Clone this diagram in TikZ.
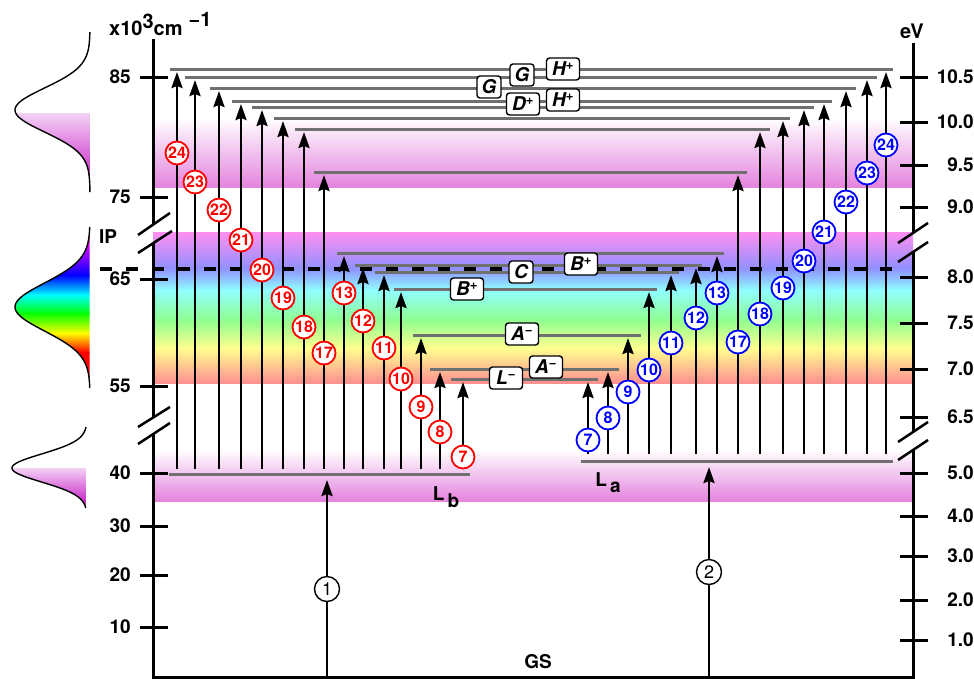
\documentclass[tikz,border=0pt]{standalone}
\usepackage{fontspec}
\setmainfont{TeX Gyre Heros}
\usetikzlibrary{arrows.meta}
\definecolor{lev}{HTML}{707070}
\definecolor{bandmag}{HTML}{E484DE}
\definecolor{gmag}{HTML}{C000C0}
\definecolor{rbA}{HTML}{FF90F0}
\definecolor{rbB}{HTML}{9090FF}
\definecolor{rbC}{HTML}{90FFFF}
\definecolor{rbD}{HTML}{90FF90}
\definecolor{rbE}{HTML}{FFFF90}
\definecolor{rbF}{HTML}{FF9090}
\begin{document}
\begin{tikzpicture}[x=1pt,y=-1pt,
  level/.style={draw=lev,line width=3pt},
  axisline/.style={line width=3pt,black},
  axtick/.style={line width=3pt,black},
  brk/.style={line width=2.5pt,black},
  gauss/.style={line width=1.4pt,black},
  trans/.style={line width=2.6pt,-{Stealth[length=16pt,width=11pt,inset=2pt]}},
  rcirc/.style={circle,draw=red,line width=1.8pt,fill=white,text=red,inner sep=0pt,minimum size=23pt,font=\bfseries\fontsize{16}{16}\selectfont},
  bcirc/.style={circle,draw=blue,line width=1.8pt,fill=white,text=blue,inner sep=0pt,minimum size=23pt,font=\bfseries\fontsize{16}{16}\selectfont},
  kcirc/.style={circle,draw=black,line width=1.4pt,fill=white,inner sep=0pt,minimum size=25pt,font=\fontsize{18}{18}\selectfont},
  lab/.style={draw,rounded corners=3pt,line width=1.4pt,fill=white,inner sep=2.5pt,minimum height=22pt,minimum width=24pt,font=\bfseries\itshape\fontsize{19}{19}\selectfont},
  labw/.style={lab,minimum width=33pt},
  ticklab/.style={inner sep=0pt,font=\bfseries\fontsize{19}{19}\selectfont},
  txt/.style={inner sep=0pt,font=\bfseries\fontsize{19}{19}\selectfont}
]
\useasboundingbox (0,0) rectangle (974,678);
% ---------- bands ----------
\shade[top color=white,bottom color=bandmag] (153,118) rectangle (913,187);
\shade[top color=white,bottom color=bandmag] (153,450) rectangle (913,501);
\shade[top color=rbA,bottom color=rbB] (153,232) rectangle (913,268.5);
\shade[top color=rbB,bottom color=rbC] (153,268) rectangle (913,290.5);
\shade[top color=rbC,bottom color=rbD] (153,290) rectangle (913,320.5);
\shade[top color=rbD,bottom color=rbE] (153,320) rectangle (913,348.5);
\shade[top color=rbE,bottom color=rbF] (153,348) rectangle (913,383);
% ---------- left gaussians ----------
\begin{scope}
\clip plot[domain=32:192,samples=100,variable=\t] ({90-75*exp(-((\t-110)^2)/968)},\t) -- cycle;
\shade[top color=gmag!18,bottom color=gmag] (0,113) rectangle (90,195);
\end{scope}
\draw[gauss] plot[domain=32:192,samples=100,variable=\t] ({90-75*exp(-((\t-110)^2)/968)},\t);
\begin{scope}
\clip plot[domain=227:388,samples=100,variable=\t] ({90-75*exp(-((\t-307)^2)/1152)},\t) -- cycle;
\fill[magenta] (0,220) rectangle (90,240.5);
\shade[top color=magenta,bottom color=blue] (0,240) rectangle (90,275.5);
\shade[top color=blue,bottom color=cyan] (0,275) rectangle (90,295.5);
\shade[top color=cyan,bottom color=green] (0,295) rectangle (90,313.5);
\shade[top color=green,bottom color=yellow] (0,313) rectangle (90,333.5);
\shade[top color=yellow,bottom color=red] (0,333) rectangle (90,352.5);
\fill[red] (0,352) rectangle (90,392);
\end{scope}
\draw[gauss] plot[domain=227:388,samples=100,variable=\t] ({90-75*exp(-((\t-307)^2)/1152)},\t);
\begin{scope}
\clip plot[domain=427:508,samples=100,variable=\t] ({87-75*exp(-((\t-468)^2)/392)},\t) -- cycle;
\shade[top color=gmag!18,bottom color=gmag] (0,468) rectangle (87,510);
\end{scope}
\draw[gauss] plot[domain=427:508,samples=100,variable=\t] ({87-75*exp(-((\t-468)^2)/392)},\t);
% ---------- levels ----------
\foreach \ly/\la/\lb in {69/170/893,77/185/877,88/210/856,101/232/832,107/252/814,118/274/790,129/295/770,172/314/747,253/337/724,265/355/702,272/375/679,289/394/657,335/413/641,369/430/619,379/451/598}
  \draw[level] (\la,\ly) -- (\lb,\ly);
\draw[level] (169,474) -- (470,474);
\draw[level] (581,461) -- (893,461);
% ---------- IP dashed line ----------
\draw[line width=3.5pt,dash pattern=on 12pt off 14pt] (100,269) -- (893,269);
% ---------- axes ----------
\draw[axisline] (153,39) -- (153,225) (153,243) -- (153,418) (153,434) -- (153,677);
\draw[axisline] (913,43) -- (913,233) (913,252) -- (913,432) (913,450) -- (913,677);
\draw[axisline] (151.5,677) -- (914.5,677);
\draw[brk] (138,235) -- (170,213) (138,253) -- (172,231);
\draw[brk] (138,427) -- (170,407) (138,444) -- (170,423);
\draw[brk] (898,243) -- (928,223) (898,262) -- (928,242);
\draw[brk] (898,442) -- (928,422) (898,460) -- (928,440);
\foreach \ty/\tl in {77/85,197/75,279/65,386/55,473/40,526/30,575/20,627/10}{
  \draw[axtick] (140,\ty) -- (168,\ty);
  \node[ticklab,anchor=east] (lt\tl) at (131,\ty) {\tl};
}
\foreach \ty/\tl [count=\k] in {77/10.5,122/10.0,165/9.5,207/9.0,277/8.0,323/7.5,369/7.0,417/6.5,473/5.0,516/4.0,556/3.0,600/2.0,640/1.0}{
  \draw[axtick] (900,\ty) -- (928,\ty);
  \node[ticklab,anchor=east] (rt\k) at (974,\ty) {\tl};
}
% ---------- transitions ----------
\coordinate (gs1) at (327,677);
\coordinate (lbend) at (327,480);
\draw[trans] (gs1) -- (lbend);
\node[kcirc] (c1) at (327,589) {1};
\coordinate (gs2) at (709,677);
\coordinate (laend) at (709,467);
\draw[trans] (gs2) -- (laend);
\node[kcirc] (c2) at (709,572) {2};
\foreach \ax/\ty/\cy/\n in {177/72/153/24,195/80/182/23,219/91/210/22,241/104/240/21,262/110/270/20,283/121/298/19,304/132/327/18,324/175/353/17,344/256/293/13,363/268/321/12,384/275/348/11,401/292/379/10,421/338/407/9,440/372/432/8,463/382/457/7}{
  \coordinate (ls\n) at (\ax,469);
  \coordinate (le\n) at (\ax,\ty);
  \draw[trans] (ls\n) -- (le\n);
  \node[rcirc] (lc\n) at (\ax,\cy) {\n};
}
\foreach \ax/\ty/\cy/\n in {588/382/440/7,608/372/418/8,628/338/392/9,649/292/370/10,671/275/343/11,696/268/318/12,717/256/293/13,738/175/342/17,760/132/314/18,783/121/288/19,804/110/261/20,824/104/232/21,846/91/202/22,867/80/173/23,886/72/145/24}{
  \coordinate (rs\n) at (\ax,454);
  \coordinate (re\n) at (\ax,\ty);
  \draw[trans] (rs\n) -- (re\n);
  \node[bcirc] (rc\n) at (\ax,\cy) {\n};
}
% ---------- level labels ----------
\node[lab] (g1) at (489,87) {G};
\node[lab] (g2) at (522,75) {G};
\node[labw] (h1) at (563,69) {H\textsuperscript{+}};
\node[labw] (d1) at (523,104) {D\textsuperscript{+}};
\node[labw] (h2) at (563,100) {H\textsuperscript{+}};
\node[lab] (cc) at (521,272) {C};
\node[labw] (b1) at (581,264) {B\textsuperscript{+}};
\node[labw] (b2) at (467,289) {B\textsuperscript{+}};
\node[labw] (a1) at (522,334) {A\textsuperscript{−}};
\node[labw] (a2) at (546,367) {A\textsuperscript{−}};
\node[labw] (l1) at (506,378) {L\textsuperscript{−}};
% ---------- texts ----------
\node[txt] (lblb) at (446,497) {L\,\raisebox{-7pt}{b}};
\node[txt] (lbla) at (608,483) {L\,\raisebox{-6pt}{a}};
\node[txt] (gs) at (538,662) {GS};
\node[txt] (ip) at (108,237) {IP};
\node[txt,font=\bfseries\fontsize{20}{20}\selectfont,anchor=base west] (unitl) at (109,35) {x10\raisebox{7pt}{3}cm\hspace{6pt}\raisebox{9pt}{−1}};
\node[txt,font=\bfseries\fontsize{20}{20}\selectfont] (unitr) at (912,31) {eV};
\end{tikzpicture}
\end{document}
